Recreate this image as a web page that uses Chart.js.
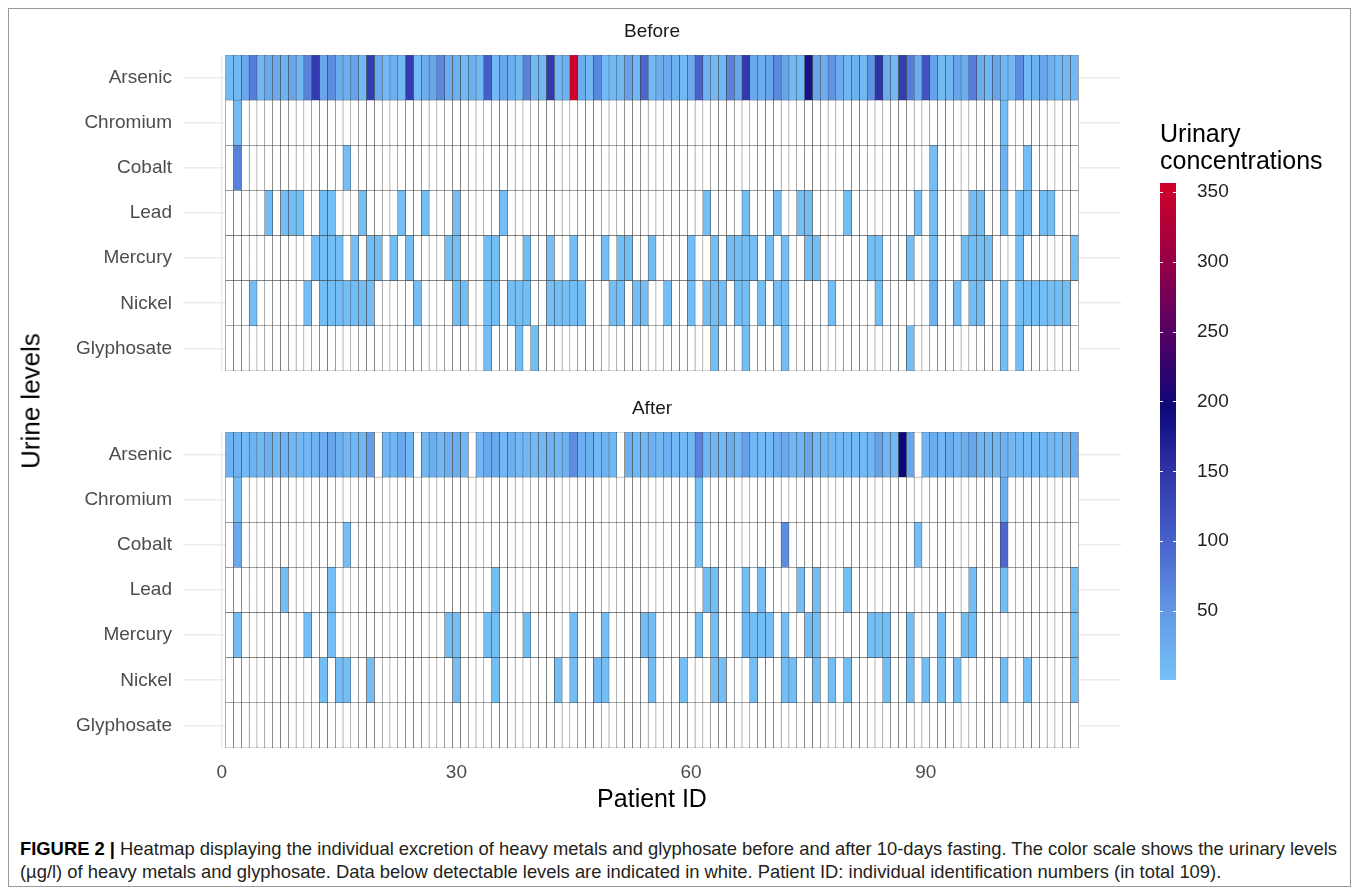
<!DOCTYPE html>
<html><head><meta charset="utf-8">
<script src="https://cdn.jsdelivr.net/npm/chart.js@4.4.1/dist/chart.umd.min.js"></script>
<style>
html,body{margin:0;padding:0;background:#fff;}
body{width:1358px;height:895px;position:relative;overflow:hidden;font-family:"Liberation Sans",Arial,sans-serif;}
#frame{position:absolute;left:8px;top:8px;width:1343px;height:879px;border:1px solid #9a9a9a;box-sizing:border-box;}
canvas{position:absolute;}
#ytitle{position:absolute;left:31px;top:401px;transform:translate(-50%,-50%) rotate(-90deg);font-size:26px;white-space:nowrap;color:#000;}
#legtitle{position:absolute;left:1160px;top:120px;font-size:25px;line-height:27px;color:#000;white-space:nowrap;}
#caption{position:absolute;left:20px;top:837px;font-size:18.5px;line-height:23px;color:#231f20;white-space:nowrap;transform-origin:0 0;}
#caption b{color:#000;}
</style></head>
<body>
<div id="frame"></div>
<canvas id="cBefore" width="1358" height="380" style="left:0;top:0"></canvas>
<canvas id="cAfter" width="1358" height="450" style="left:0;top:385px"></canvas>
<canvas id="cLegend" width="200" height="520" style="left:1140px;top:170px"></canvas>
<div id="ytitle">Urine levels</div>
<div id="legtitle">Urinary<br>concentrations</div>
<div id="caption"><span id="cap1"><b>FIGURE 2 |</b> Heatmap displaying the individual excretion of heavy metals and glyphosate before and after 10-days fasting. The color scale shows the urinary levels</span><br><span>(µg/l) of heavy metals and glyphosate. Data below detectable levels are indicated in white. Patient ID: individual identification numbers (in total 109).</span></div>
<script>
// ---------------- DATA ----------------
const rows = ['Arsenic','Chromium','Cobalt','Lead','Mercury','Nickel','Glyphosate'];
const patientIds = Array.from({length:109},(_,i)=>i+1);
const xTickLabels = [0,30,60,90];
const xGridTicks = [0,15,30,45,60,75,90,105];
const legendTicks = [50,100,150,200,250,300,350];

// Arsenic (µg/l), patients 1..109
const beforeArsenic = [10,12,30,75,12,30,30,20,35,15,70,140,35,60,25,25,40,12,140,30,12,22,12,140,8,25,35,
 65,25,22,12,22,12,105,12,35,25,12,70,10,12,145,12,20,356,25,12,65,10,12,12,40,12,95,12,
 25,30,22,12,30,100,20,12,15,70,35,145,30,25,35,65,35,10,10,185,35,25,55,25,15,22,12,55,
 150,25,12,140,75,25,115,40,12,15,35,25,75,25,15,35,15,12,60,12,22,35,22,12,12,12];
const afterArsenic = [20,20,10,20,12,22,12,20,12,12,12,20,25,35,22,12,12,12,45,null,12,15,30,12,null,12,22,
 12,22,25,12,null,12,30,30,12,22,12,12,12,12,20,12,22,60,22,22,12,20,12,null,22,12,12,22,
 12,22,12,12,15,70,12,15,12,25,12,40,12,12,12,25,30,12,15,35,12,12,12,12,12,10,12,15,40,
 15,12,195,35,null,15,25,15,25,15,25,35,15,15,12,20,12,12,12,10,12,12,12,12,25];

// Other analytes: [patient ID, value] for detected levels only
const beforeChromium = [[2,8],[100,8]];
const beforeCobalt = [[2,70],[16,6],[91,6],[100,20],[103,6]];
const beforeLead = [[6,5],[8,5],[9,5],[10,5],[13,5],[14,5],[18,5],[23,5],[26,5],[30,5],[36,5],[62,5],[67,5],[71,5],[74,5],[75,5],[80,5],[89,5],[91,5],[96,5],[97,5],[100,5],[102,5],[103,5],[105,5],[106,5]];
const beforeMercury = [[12,5],[13,5],[14,5],[15,5],[17,5],[19,5],[20,5],[22,5],[24,5],[29,5],[30,5],[34,5],[35,5],[39,5],[42,5],[45,5],[49,5],[51,5],[52,5],[55,5],[60,5],[63,5],[65,5],[66,5],[67,5],[68,5],[70,5],[72,5],[75,5],[76,5],[83,5],[84,5],[88,5],[91,5],[95,5],[96,5],[97,5],[98,5],[102,5],[109,5]];
const beforeNickel = [[4,5],[11,5],[13,5],[14,5],[15,5],[16,5],[17,5],[18,5],[19,5],[25,5],[30,5],[31,5],[34,5],[35,5],[37,5],[38,5],[39,5],[42,5],[43,5],[44,5],[45,5],[46,5],[50,5],[51,5],[53,5],[54,5],[57,5],[60,5],[62,5],[63,5],[64,5],[66,5],[67,5],[69,5],[71,5],[72,5],[78,5],[84,5],[91,20],[94,5],[96,5],[97,5],[100,5],[102,5],[103,5],[104,5],[105,5],[106,5],[107,5],[108,5]];
const beforeGlyphosate = [[34,5],[38,5],[40,5],[63,5],[67,5],[72,5],[88,5],[100,5],[102,5]];

const afterChromium = [[2,5],[61,5],[100,25]];
const afterCobalt = [[2,30],[16,5],[61,5],[72,60],[89,5],[100,95]];
const afterLead = [[8,5],[14,5],[35,5],[62,5],[63,5],[67,5],[69,5],[74,5],[76,5],[80,5],[96,5],[100,5],[109,5]];
const afterMercury = [[2,5],[11,5],[14,5],[29,5],[30,5],[34,5],[35,5],[39,5],[45,5],[49,5],[54,5],[55,5],[61,5],[63,5],[67,15],[68,5],[69,5],[70,5],[72,5],[75,5],[76,5],[83,5],[84,5],[85,5],[88,5],[92,5],[95,5],[96,5],[109,5]];
const afterNickel = [[13,5],[15,5],[16,5],[19,5],[30,5],[35,5],[43,5],[45,5],[48,5],[49,5],[55,5],[59,5],[63,5],[64,5],[68,5],[72,5],[73,5],[76,5],[78,5],[80,5],[85,5],[88,5],[90,5],[92,5],[94,5],[100,5],[103,5],[109,5]];
const afterGlyphosate = [];

// ---------------- STYLE ----------------
const colorStops = [
 [0.6,[118,194,248]],[50,[98,152,230]],[100,[72,98,204]],[150,[46,52,168]],
 [195,[12,8,122]],[250,[85,0,100]],[300,[150,0,72]],[356.4,[208,2,40]]];
const scaleMin = 0.6, scaleMax = 356.4;
const FONT = '"Liberation Sans", Arial, sans-serif';

function rgbStr(c){return 'rgb('+c.map(Math.round).join(',')+')';}
function colorFor(v){
  if (v === null || v === undefined) return '#ffffff';
  const s = colorStops;
  if (v <= s[0][0]) return rgbStr(s[0][1]);
  for (let k=1;k<s.length;k++){
    if (v <= s[k][0]){
      const t=(v-s[k-1][0])/(s[k][0]-s[k-1][0]);
      return rgbStr(s[k-1][1].map((a,i)=>a+(s[k][1][i]-a)*t));
    }
  }
  return rgbStr(s[s.length-1][1]);
}
function dense(pairs){
  const out = patientIds.map(()=>null);
  pairs.forEach(([id,v])=>{ out[id-1]=v; });
  return out;
}
function buildDatasets(rowValues){
  return patientIds.map((id,j)=>({
    data: rowValues.map(()=>[id-0.5,id+0.5]),
    backgroundColor: rowValues.map(arr=>colorFor(arr[j])),
    borderColor:'#3a3a3a',
    borderWidth:0.5,
    borderSkipped:false,
    grouped:false,
    barPercentage:1,
    categoryPercentage:1,
    xAxisID:'x'
  }));
}

const beforeRows = [beforeArsenic, dense(beforeChromium), dense(beforeCobalt), dense(beforeLead), dense(beforeMercury), dense(beforeNickel), dense(beforeGlyphosate)];
const afterRows = [afterArsenic, dense(afterChromium), dense(afterCobalt), dense(afterLead), dense(afterMercury), dense(afterNickel), dense(afterGlyphosate)];

const gridColor = '#ebebeb';
function noPad(s){ s.paddingTop = 0; s.paddingBottom = 0; }
function yScale(){
  return {
    type:'category', labels: rows, position:'left',
    afterFit: s=>{ s.width = 183; noPad(s); },
    grid:{offset:false, color:gridColor, lineWidth:1.6, drawTicks:false},
    border:{display:false},
    ticks:{font:{family:FONT,size:19}, color:'#4d4d4d', padding:11}
  };
}
function xGrid(){
  return {color:gridColor, lineWidth: c => (c.tick && c.tick.value % 30 === 0) ? 1.4 : 0.7, drawTicks:false};
}
const xMin = -4.95, xMax = 114.95;
const commonOpts = {
  indexAxis:'y', responsive:false, animation:false,
  plugins:{legend:{display:false}, tooltip:{enabled:false}, title:{display:false}}
};

new Chart(document.getElementById('cBefore'), {
  type:'bar',
  data:{labels: rows, datasets: buildDatasets(beforeRows)},
  options:Object.assign({}, commonOpts, {
    layout:{padding:{left:0,right:237,top:0,bottom:9}},
    scales:{
      y: yScale(),
      x: {type:'linear', position:'top', min:xMin, max:xMax,
          afterBuildTicks: s=>{ s.ticks = xGridTicks.map(v=>({value:v})); },
          afterFit: s=>{ s.height = 55; },
          ticks:{display:false},
          grid: xGrid(),
          border:{display:false},
          title:{display:true, text:'Before', color:'#1a1a1a', font:{family:FONT,size:19}, padding:{top:20.6,bottom:0}}}
    }
  })
});

new Chart(document.getElementById('cAfter'), {
  type:'bar',
  data:{labels: rows, datasets: buildDatasets(afterRows)},
  options:Object.assign({}, commonOpts, {
    layout:{padding:{left:0,right:237,top:0,bottom:17}},
    scales:{
      y: yScale(),
      xTop: {type:'linear', position:'top', min:xMin, max:xMax,
          afterFit: s=>{ s.height = 47; },
          ticks:{display:false},
          grid:{display:false},
          border:{display:false},
          title:{display:true, text:'After', color:'#1a1a1a', font:{family:FONT,size:19}, padding:{top:12.6,bottom:0}}},
      x: {type:'linear', position:'bottom', min:xMin, max:xMax,
          afterBuildTicks: s=>{ s.ticks = xGridTicks.map(v=>({value:v})); },
          afterFit: s=>{ s.height = 70; },
          ticks:{autoSkip:false, maxRotation:0, padding:13.6, color:'#4d4d4d', font:{family:FONT,size:19},
                 callback: v => xTickLabels.includes(v) ? String(v) : ''},
          grid: xGrid(),
          border:{display:false},
          title:{display:true, text:'Patient ID', color:'#000', font:{family:FONT,size:25}, padding:{top:0,bottom:3}}}
    }
  })
});

const barTicksPlugin = {
  id:'barTicks',
  afterDatasetsDraw(chart){
    const {ctx, chartArea} = chart;
    const ys = chart.scales.y;
    ctx.save();
    ctx.strokeStyle = '#ffffff';
    ctx.lineWidth = 1;
    legendTicks.forEach(v=>{
      const py = Math.round(ys.getPixelForValue(v))+0.5;
      ctx.beginPath();
      ctx.moveTo(chartArea.left, py); ctx.lineTo(chartArea.left+3, py);
      ctx.moveTo(chartArea.right-3, py); ctx.lineTo(chartArea.right, py);
      ctx.stroke();
    });
    ctx.restore();
  }
};

new Chart(document.getElementById('cLegend'), {
  type:'bar',
  data:{labels:[''], datasets:[{
    data:[[scaleMin, scaleMax]],
    backgroundColor: (c)=>{
      const ch = c.chart; const area = ch.chartArea;
      if (!area) return colorFor(scaleMin);
      const ys = ch.scales.y;
      const g = ch.ctx.createLinearGradient(0, ys.getPixelForValue(scaleMin), 0, ys.getPixelForValue(scaleMax));
      for (let k=0;k<=40;k++){
        const v = scaleMin + (scaleMax-scaleMin)*k/40;
        g.addColorStop(k/40, colorFor(v));
      }
      return g;
    },
    borderWidth:0, barPercentage:1, categoryPercentage:1, borderSkipped:false
  }]},
  options:{
    responsive:false, animation:false,
    layout:{padding:{left:20,right:0,top:13,bottom:10}},
    plugins:{legend:{display:false}, tooltip:{enabled:false}},
    scales:{
      x:{type:'category', display:false},
      y:{type:'linear', position:'right', min:scaleMin, max:scaleMax,
         afterBuildTicks: s=>{ s.ticks = legendTicks.map(v=>({value:v})); },
         afterFit: s=>{ s.width = 164; noPad(s); },
         grid:{display:false}, border:{display:false},
         ticks:{padding:13, color:'#222', font:{family:FONT,size:19}}}
    }
  },
  plugins:[barTicksPlugin]
});

// fit caption width to the figure frame
(function(){
  const cap = document.getElementById('caption');
  const w = document.getElementById('cap1').getBoundingClientRect().width;
  const target = 1317;
  cap.style.transform = 'scaleX(' + (target / w) + ')';
})();
</script>
</body></html>
